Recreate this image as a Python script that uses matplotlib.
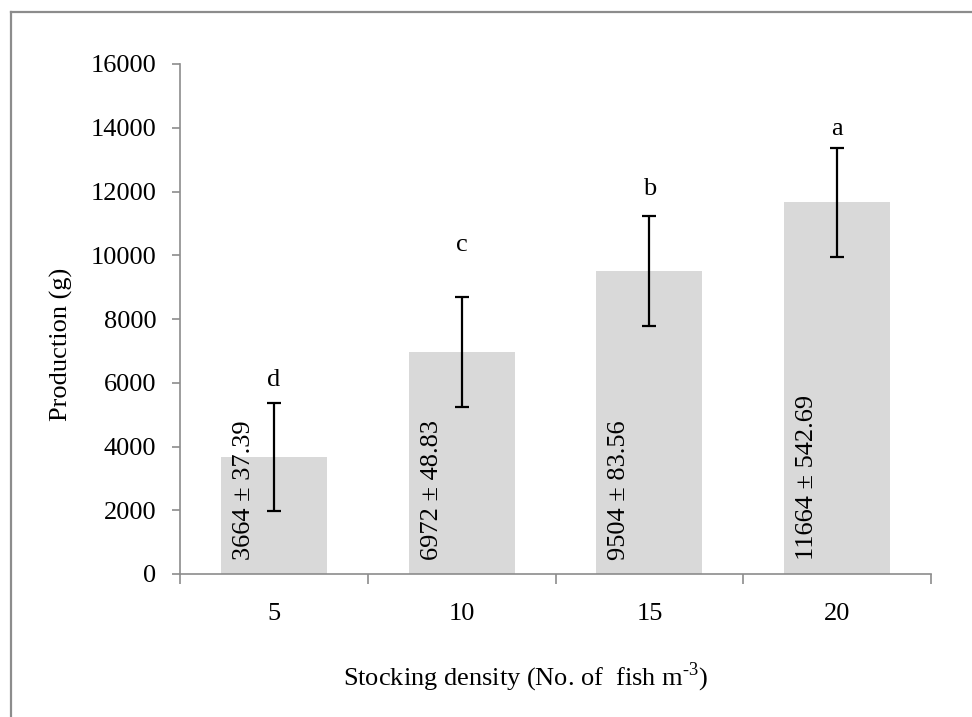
import matplotlib.pyplot as plt
from matplotlib.lines import Line2D

plt.rcParams['font.family'] = ['Liberation Serif', 'DejaVu Serif']
plt.rcParams['mathtext.fontset'] = 'custom'
plt.rcParams['mathtext.rm'] = 'Liberation Serif'

densities = ['5', '10', '15', '20']
production = [3664, 6972, 9504, 11664]
error = [1700, 1720, 1720, 1710]
bar_labels = ['3664 ± 37.39', '6972 ± 48.83', '9504 ± 83.56', '11664 ± 542.69']
letters = ['d', 'c', 'b', 'a']
letter_gap = [12, 33, 15, 9]  # points above the error cap, placed by hand

fs = 19
fig = plt.figure(figsize=(9.72, 7.17), dpi=100)
ax = fig.add_axes([180/972, 1 - 574/717, (931 - 180)/972, (574 - 64)/717])

x = list(range(len(densities)))
ax.bar(x, production, width=0.565, color='#d9d9d9', zorder=1)
ax.errorbar(x, production, yerr=error, fmt='none', ecolor='black',
            elinewidth=1.6, capsize=4.8, capthick=1.6, zorder=3)

for i in x:
    ax.text(i - 0.16, 430, bar_labels[i], rotation=90, ha='center',
            va='bottom', fontsize=fs, zorder=4)
    ax.annotate(letters[i], (i, production[i] + error[i]),
                xytext=(0, letter_gap[i]), textcoords='offset points',
                ha='center', va='baseline', fontsize=fs)

ax.set_xlim(-0.5, 3.5)
ax.set_ylim(0, 16000)
ax.set_yticks(range(0, 16001, 2000))
ax.set_xticks([-0.5, 0.5, 1.5, 2.5, 3.5])
ax.set_xticklabels([])
ax.set_xticks(x, minor=True)
ax.set_xticklabels(densities, minor=True)
ax.tick_params(axis='x', which='major', direction='out', length=7,
               color='#8c8c8c', width=1.2)
ax.tick_params(axis='x', which='minor', length=0, pad=21, labelsize=fs)
ax.tick_params(axis='y', direction='out', length=6, color='#8c8c8c',
               width=1.2, labelsize=fs, pad=11)

for side in ['top', 'right']:
    ax.spines[side].set_visible(False)
for side in ['left', 'bottom']:
    ax.spines[side].set_color('#8c8c8c')
    ax.spines[side].set_linewidth(1.2)

fig.text(61/972, 1 - 344/717, 'Production (g)', rotation=90,
         ha='center', va='center', fontsize=fs)
fig.text(526/972, 1 - 685/717, r'Stocking density (No. of  fish m$^{\text{-}3}$)',
         ha='center', va='baseline', fontsize=fs)

# outer chart frame (only top and left edges show)
fig.add_artist(Line2D([11/972, 1], [1 - 12/717, 1 - 12/717],
                      color='#8c8c8c', linewidth=1.6))
fig.add_artist(Line2D([11/972, 11/972], [0, 1 - 12/717],
                      color='#8c8c8c', linewidth=1.6))

fig.savefig('out.png', dpi=100)
